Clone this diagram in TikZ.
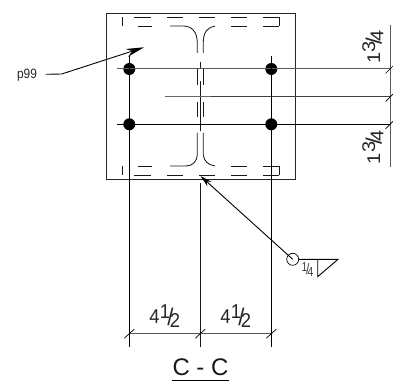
\documentclass[tikz,border=0pt]{standalone}
\usepackage{fontspec}
\setmainfont{Liberation Sans}
\usetikzlibrary{arrows.meta}
\newcommand{\fr}[3]{#1\kern0.3pt\raisebox{5.3pt}{#2}\kern-3pt\raisebox{-1.7pt}{\fontsize{24}{24}\selectfont/}\kern-4pt\raisebox{-3.7pt}{#3}}
\tikzset{
  ln/.style={draw=black,line width=0.9pt},
  thin ln/.style={draw=black!90,line width=0.85pt},
  dimln/.style={draw=black!65,line width=1pt},
  rebar/.style={draw=black!90,line width=0.85pt},
  bolt/.style={circle,fill=black,inner sep=0pt,minimum size=12pt},
  lbl/.style={inner sep=0pt,anchor=base,text=black!85,font=\fontsize{20}{20}\selectfont,xscale=0.92},
  tick/.style={draw=black,line width=0.7pt},
}
\begin{document}
\begin{tikzpicture}[x=1pt,y=-1pt]
\useasboundingbox (0,0) rectangle (393,382);
\draw[draw=black!85,line width=1pt] (106,14) rectangle (295,179);
% rebar
\foreach \y in {17,175.3}{
  \foreach \a/\b in {134/151,167/183,199/215,231/247,263/279.3}
    \draw[rebar] (\a,\y) -- (\b,\y);
}
\foreach \y in {26,166}{
  \foreach \a/\b in {138/152,231/247,263/279.3}
    \draw[rebar] (\a,\y) -- (\b,\y);
}
\draw[rebar] (279.3,17) -- (279.3,26);
\draw[rebar] (279.3,166) -- (279.3,175.3);
\draw[rebar] (122,17.5) -- (122,26);
\draw[rebar] (122,166) -- (122,175.3);
% I-beam
\draw[rebar] (170,26) -- (183,26) .. controls (192,26) and (197,32) .. (197.3,42) -- (197.3,53);
\draw[rebar] (215,26) .. controls (208,27) and (203.3,32) .. (203.3,42) -- (203.3,53);
\foreach \x in {197.3,203.3}{
  \draw[rebar] (\x,68) -- (\x,85);
  \draw[rebar] (\x,102) -- (\x,117.5);
}
\draw[rebar] (197.3,133) -- (197.3,155) .. controls (197,161) and (193,166) .. (186,166) -- (170,166);
\draw[rebar] (203.3,133) -- (203.3,155) .. controls (204,161) and (208,165) .. (215,166);
% centre line
\coordinate (ct) at (200.3,62);
\coordinate (cb) at (200.3,347);
\draw[thin ln] (ct) -- (200.3,68.5);
\draw[thin ln] (200.3,81) -- (200.3,131);
\draw[thin ln] (200.3,183) -- (cb);
% bolts
\node[bolt] (b1) at (129.3,69) {};
\node[bolt] (b2) at (271.3,69) {};
\node[bolt] (b3) at (129.3,124.3) {};
\node[bolt] (b4) at (271.3,124.3) {};
\coordinate (r1) at (390,69);
\coordinate (r2) at (390,97);
\coordinate (r3) at (390,124.3);
\coordinate (c2) at (165,97);
\coordinate (d1) at (129.3,347);
\coordinate (d2) at (271.3,347);
% grid lines
\draw[draw=black!65,line width=1pt] (117,69) -- (r1);
\draw[ln] (117,124.3) -- (r3);
\draw[draw=black!60,line width=1pt] (c2) -- (211,97);
\draw[draw=black!75,line width=1pt] (211,97) -- (r2);
\draw[ln] (129.3,56) -- (d1);
\draw[ln] (271.3,56) -- (d2);
% right dimension
\draw[dimln] (390,25) -- (390,167);
\foreach \y in {r1,r2,r3}
  \draw[tick] ([shift={(-4.5,4.5)}]\y) -- ([shift={(4.5,-4.5)}]\y);
\node[lbl,rotate=90] (t1) at (380,47.2) {\fr{1}{3}{4}};
\node[lbl,rotate=90] (t2) at (380,147.5) {\fr{1}{3}{4}};
% bottom dimension
\coordinate (e1) at (129.3,333.7);
\coordinate (e2) at (200.3,333.7);
\coordinate (e3) at (271.3,333.7);
\draw[dimln] (e1) -- (e3);
\foreach \p in {e1,e2,e3}
  \draw[tick] ([shift={(-5,4.5)}]\p) -- ([shift={(5,-4.5)}]\p);
\node[lbl] (t3) at (164.7,323.3) {\fr{4}{1}{2}};
\node[lbl] (t4) at (235.7,323.3) {\fr{4}{1}{2}};
% title
\node[inner sep=0pt,font=\fontsize{24}{24}\selectfont,text=black!90] (title) at (200.5,367.5) {C - C};
\draw[ln] (172,380.7) -- (229,380.7);
% weld leader
\node[circle,draw=black,line width=0.7pt,minimum size=12pt,inner sep=0pt] (w) at (292.7,259.3) {};
\coordinate (wt) at (200.5,176);
\draw[ln,-{Stealth[length=12pt,width=6pt]}] (w.center) -- (wt);
\coordinate (w1) at (298.7,259.3);
\coordinate (w2) at (338,259.3);
\coordinate (w3) at (317.7,276.7);
\coordinate (w4) at (317.7,259.3);
\draw[ln] (w1) -- (w2) -- (w3) -- (w4);
\node[inner sep=0pt,text=black!75,font=\fontsize{13}{13}\selectfont,xscale=0.8] (wl) at (307.5,269.5) {\raisebox{2.5pt}{1}\kern-1.5pt\raisebox{-0.5pt}{\fontsize{15}{15}\selectfont/}\kern-2.5pt\raisebox{-2.5pt}{4}};
% p99 leader
\node[inner sep=0pt,text=black!85,font=\fontsize{13.5}{13.5}\selectfont,xscale=0.88] (p) at (27,75) {p99};
\coordinate (p1) at (45.7,74.3);
\coordinate (p2) at (61.7,74);
\coordinate (p3) at (144,47.3);
\draw[ln,-{Stealth[length=18pt,width=8pt]}] (p1) -- (p2) -- (p3);
\end{tikzpicture}
\end{document}
